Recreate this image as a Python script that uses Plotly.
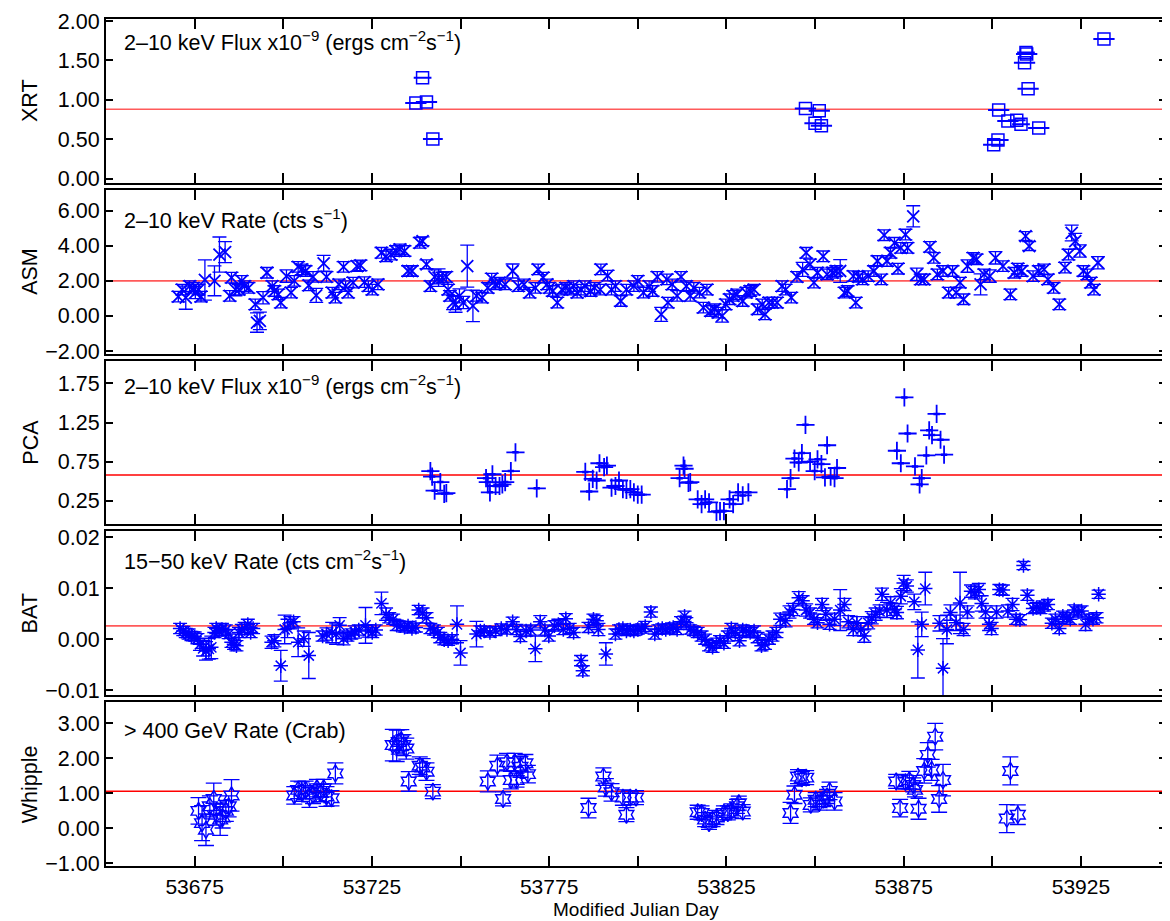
import plotly.graph_objects as go

# ---------------- data ----------------
xrt_mjd = [53737.4, 53739.3, 53740.4, 53742.2, 53847.3, 53850.0, 53851.2, 53851.8,
           53900.4, 53901.6, 53901.8, 53904.4, 53906.9, 53908.1, 53909.1, 53909.5,
           53909.7, 53910.1, 53913.1, 53931.5]
xrt_flux = [0.96, 1.28, 0.97, 0.50, 0.89, 0.70, 0.86, 0.67,
            0.43, 0.49, 0.87, 0.73, 0.74, 0.69, 1.47, 1.60,
            1.58, 1.14, 0.64, 1.77]
xrt_dmjd = [3.0, 2.5, 3.0, 2.8, 3.0, 3.0, 3.0, 3.0,
            3.0, 3.0, 3.0, 3.0, 2.5, 2.5, 3.0, 2.5,
            3.0, 3.0, 3.0, 3.0]
xrt_ref = 0.88

asm_mjd = [53670.4, 53671.5, 53672.5, 53673.6, 53674.7, 53675.2, 53676.1, 53676.8, 53677.9, 53680.6,
           53682.0, 53683.6, 53684.9, 53685.4, 53686.5, 53687.5, 53688.3, 53689.1, 53690.2, 53692.1,
           53692.6, 53693.4, 53694.3, 53695.4, 53696.9, 53697.5, 53698.6, 53699.3, 53700.9, 53702.2,
           53703.1, 53704.2, 53705.2, 53706.3, 53707.2, 53708.4, 53709.3, 53711.4, 53712.2, 53713.8,
           53714.7, 53715.7, 53717.0, 53717.6, 53718.3, 53719.7, 53720.8, 53721.8, 53722.9, 53724.0,
           53725.1, 53726.7, 53727.7, 53729.0, 53730.4, 53731.8, 53732.9, 53734.2, 53735.2, 53736.3,
           53738.5, 53739.3, 53740.4, 53741.5, 53742.7, 53743.8, 53744.9, 53746.0, 53746.5, 53747.0,
           53747.9, 53748.6, 53749.7, 53750.8, 53751.9, 53753.5, 53754.5, 53756.1, 53757.7, 53758.8,
           53759.9, 53761.0, 53762.6, 53764.7, 53766.3, 53767.9, 53769.5, 53771.1, 53771.9, 53773.3,
           53774.4, 53775.1, 53776.0, 53777.3, 53778.6, 53779.7, 53780.8, 53781.9, 53782.9, 53784.0,
           53785.1, 53786.7, 53787.8,
           53789.4, 53789.6, 53791.5, 53792.6, 53793.7, 53795.2, 53796.8, 53798.9, 53800.0, 53801.6,
           53803.2, 53804.2, 53805.5, 53806.6, 53808.2, 53808.5, 53809.7, 53811.1, 53812.2, 53813.7,
           53814.8, 53815.8, 53817.4, 53818.5, 53819.5, 53820.6, 53821.7, 53822.7, 53823.8, 53824.8,
           53825.9, 53826.9, 53828.0, 53829.6, 53830.6, 53831.7, 53832.8, 53833.8, 53835.1, 53835.9,
           53837.0, 53838.0, 53839.3, 53840.7, 53841.7, 53843.3, 53844.9, 53846.5, 53847.5, 53848.6,
           53849.7, 53850.7, 53852.3, 53853.4, 53854.9, 53856.0, 53857.1, 53858.3, 53859.2, 53860.8,
           53861.5, 53862.3, 53863.4, 53865.0, 53866.6, 53867.6, 53868.7, 53869.5, 53870.3, 53871.3,
           53872.4, 53873.4, 53874.2, 53875.5, 53876.1, 53877.7, 53878.7, 53879.8, 53880.8, 53882.4,
           53883.5, 53884.5, 53886.1, 53887.7, 53888.8, 53889.8, 53890.9, 53891.9, 53893.0, 53894.6,
           53895.6, 53896.7, 53897.7, 53899.3, 53900.9, 53903.0, 53905.1, 53906.2, 53907.2, 53908.3,
           53909.4, 53910.4, 53911.5, 53913.1, 53914.6, 53915.7, 53917.3, 53918.9, 53920.5, 53921.5,
           53922.4, 53923.4, 53924.7, 53925.7, 53926.8, 53927.8, 53928.7, 53929.8]
asm_rate = [1.10, 1.50, 1.04, 1.70, 1.60, 1.33, 1.50, 1.10, 2.05, 2.00,
            3.50, 3.64, 1.14, 2.18, 1.50, 1.50, 2.00, 1.70, 1.60, 0.66,
            -0.38, -0.28, 1.04, 2.46, 1.70, 1.42, 1.23, 0.76, 2.27, 1.33,
            2.00, 2.80, 2.65, 2.56, 1.74, 2.23, 1.17, 3.00, 2.23, 1.33,
            1.04, 1.80, 2.80, 1.70, 1.33, 1.90, 2.84, 2.88, 1.93, 1.70,
            1.50, 1.80, 3.60, 3.40, 3.50, 3.70, 3.79, 3.70, 2.56, 2.56,
            4.17, 4.26, 2.94, 1.70, 2.23, 2.18, 2.18, 2.23, 1.50, 1.14,
            0.76, 0.66, 1.14, 0.76, 2.84, 0.57, 1.14, 1.04, 1.60, 2.12,
            1.80, 1.90, 1.80, 2.56, 1.70, 1.80, 1.33, 1.60, 2.65, 2.18,
            1.80, 1.60, 1.42, 0.76, 1.50, 1.60, 1.50, 1.70, 1.33, 1.50,
            1.70, 1.42, 1.60,
            1.50, 2.65, 2.30, 1.50, 1.70, 0.85, 1.50, 1.70, 2.00, 1.33,
            1.70, 1.42, 2.23, 0.09, 2.08, 0.76, 1.80, 1.14, 2.23, 1.70,
            1.14, 1.60, 1.33, 0.47, 1.50, 0.28, 0.38, 0.19, 0.00, 0.66,
            0.95, 1.14, 1.23, 0.85, 1.33, 1.42, 1.50, 0.38, 0.66, 0.09,
            0.76, 0.76, 0.76, 1.70, 1.50, 1.04, 2.23, 2.65, 3.60, 2.94,
            1.90, 2.46, 3.40, 2.37, 2.46, 2.56, 2.56, 1.33, 1.42, 2.27,
            0.76, 2.23, 2.08, 2.27, 2.56, 3.13, 2.08, 4.60, 3.13, 3.60,
            4.17, 2.69, 3.88, 4.64, 3.88, 5.68, 2.37, 2.08, 2.08, 3.94,
            3.31, 2.37, 2.56, 1.33, 2.56, 1.33, 1.90, 0.95, 2.84, 3.31,
            3.22, 1.80, 2.37, 2.27, 3.31, 2.84, 1.23, 2.46, 2.69, 2.56,
            4.55, 3.98, 2.27, 2.56, 2.65, 2.08, 1.60, 0.66, 2.75, 3.50,
            4.73, 4.26, 3.70, 2.56, 2.37, 1.90, 1.50, 3.03]
asm_err = [0.30, 0.30, 0.66, 0.30, 0.30, 0.35, 0.30, 0.30, 1.15, 0.85,
           1.00, 0.60, 0.30, 0.30, 0.35, 0.30, 0.30, 0.30, 0.30, 0.30,
           0.55, 0.50, 0.35, 0.30, 0.30, 0.30, 0.30, 0.30, 0.35, 0.30,
           0.30, 0.30, 0.30, 0.30, 0.30, 0.30, 0.40, 0.45, 0.30, 0.30,
           0.30, 0.30, 0.30, 0.30, 0.30, 0.30, 0.30, 0.30, 0.30, 0.30,
           0.30, 0.30, 0.30, 0.30, 0.30, 0.30, 0.30, 0.30, 0.30, 0.30,
           0.30, 0.25, 0.25, 0.30, 0.40, 0.50, 0.30, 0.30, 0.30, 0.30,
           0.40, 0.45, 0.40, 0.35, 1.20, 0.90, 0.30, 0.30, 0.30, 0.30,
           0.30, 0.30, 0.30, 0.40, 0.30, 0.30, 0.30, 0.30, 0.30, 0.30,
           0.30, 0.30, 0.30, 0.30, 0.30, 0.30, 0.30, 0.30, 0.30, 0.30,
           0.30, 0.30, 0.30,
           0.30, 0.30, 0.30, 0.30, 0.30, 0.30, 0.30, 0.30, 0.30, 0.30,
           0.30, 0.30, 0.30, 0.40, 0.30, 0.30, 0.30, 0.30, 0.30, 0.30,
           0.30, 0.30, 0.30, 0.30, 0.30, 0.30, 0.30, 0.30, 0.35, 0.30,
           0.30, 0.30, 0.30, 0.30, 0.30, 0.30, 0.30, 0.30, 0.30, 0.30,
           0.30, 0.30, 0.30, 0.30, 0.30, 0.30, 0.30, 0.40, 0.30, 0.30,
           0.30, 0.30, 0.30, 0.30, 0.30, 0.30, 0.65, 0.30, 0.30, 0.30,
           0.30, 0.30, 0.30, 0.30, 0.30, 0.30, 0.30, 0.30, 0.30, 0.30,
           0.30, 0.30, 0.30, 0.30, 0.30, 0.60, 0.35, 0.30, 0.30, 0.30,
           0.30, 0.30, 0.30, 0.30, 0.30, 0.30, 0.30, 0.30, 0.35, 0.30,
           0.30, 0.60, 0.30, 0.35, 0.35, 0.30, 0.30, 0.30, 0.30, 0.30,
           0.25, 0.25, 0.30, 0.30, 0.30, 0.30, 0.30, 0.30, 0.30, 0.30,
           0.45, 0.45, 0.35, 0.30, 0.30, 0.30, 0.30, 0.35]
asm_ref = 2.0

pca_mjd = [53741.5, 53742.0, 53742.7, 53744.3, 53745.4, 53746.0, 53757.2, 53757.7, 53758.3, 53759.0,
           53759.9, 53761.0, 53761.8, 53762.6, 53764.2, 53765.5, 53771.5,
           53785.2, 53786.3, 53787.3, 53788.4, 53789.2, 53790.5, 53791.3, 53792.6, 53793.7, 53794.7,
           53795.8, 53796.8, 53797.9, 53798.9, 53800.0, 53801.1, 53811.8, 53812.9, 53813.2, 53814.3,
           53814.8, 53816.9, 53818.0, 53819.0, 53820.1, 53822.2, 53823.2, 53824.3, 53825.9, 53826.9,
           53828.3, 53829.6, 53831.2, 53842.1, 53843.1, 53844.2, 53845.4, 53846.3, 53847.3, 53848.6,
           53849.9, 53850.7, 53851.8, 53852.8, 53853.4, 53854.4, 53855.5, 53856.2, 53873.1, 53874.2,
           53875.2, 53876.1, 53878.2, 53879.5, 53880.1, 53881.4, 53882.2, 53883.0, 53884.3, 53885.4,
           53886.4]
pca_flux = [0.63, 0.56, 0.38, 0.49, 0.34, 0.35, 0.54, 0.49, 0.36, 0.59,
            0.44, 0.44, 0.46, 0.49, 0.63, 0.87, 0.41,
            0.62, 0.37, 0.53, 0.51, 0.73, 0.68, 0.70, 0.42, 0.44, 0.51,
            0.40, 0.39, 0.40, 0.36, 0.33, 0.33, 0.54, 0.70, 0.66, 0.48,
            0.49, 0.27, 0.21, 0.27, 0.23, 0.11, 0.12, 0.12, 0.27, 0.21,
            0.36, 0.32, 0.36, 0.40, 0.54, 0.79, 0.74, 0.86, 1.22, 0.75,
            0.63, 0.78, 0.72, 0.55, 0.96, 0.56, 0.54, 0.67, 0.89, 0.73,
            1.57, 1.11, 0.69, 0.46, 0.54, 0.83, 1.15, 1.09, 1.36, 1.03,
            0.84]
pca_ref = 0.58

bat_mjd = [53670.9, 53671.8, 53672.5, 53673.3, 53674.1, 53675.0, 53675.8, 53676.5, 53677.4, 53678.2,
           53679.0, 53679.7, 53680.6, 53681.1, 53681.9, 53682.7, 53683.8, 53684.6, 53685.4, 53686.1,
           53686.8, 53687.5, 53688.3, 53689.1, 53690.0, 53690.8, 53691.5, 53696.7, 53697.5, 53699.3,
           53700.4, 53701.2, 53702.0, 53702.9, 53704.2, 53705.8, 53707.2, 53711.1, 53712.2, 53713.8,
           53714.9, 53715.9, 53717.0, 53718.1, 53719.2, 53720.2, 53721.3, 53723.2, 53724.0, 53725.1,
           53726.1, 53727.7, 53729.0, 53729.9, 53731.0, 53732.0, 53733.1, 53734.2, 53735.2, 53736.3,
           53737.4, 53738.2, 53739.3, 53740.4, 53741.5, 53742.5, 53743.6, 53744.3, 53745.4, 53746.5,
           53747.6, 53749.0, 53750.0, 53754.5, 53755.6, 53756.7, 53758.3, 53759.9, 53761.5, 53763.1,
           53764.7, 53765.8, 53766.9, 53768.5, 53769.8, 53771.1, 53772.5, 53773.8, 53774.9, 53776.5,
           53777.6, 53779.0, 53779.7, 53780.8, 53781.9, 53784.0, 53784.5, 53786.1, 53787.5,
           53788.4, 53788.9, 53791.0, 53793.7, 53794.7, 53795.8, 53796.8, 53797.9, 53798.9, 53800.0,
           53801.1, 53802.1, 53803.7, 53804.8, 53805.8, 53806.9, 53807.9, 53809.0, 53810.0, 53811.1,
           53812.2, 53813.2, 53813.7, 53814.8, 53815.8, 53816.9, 53818.0, 53819.0, 53820.1, 53821.1,
           53822.2, 53823.2, 53824.3, 53825.4, 53826.4, 53827.5, 53828.7, 53829.6, 53830.6, 53831.7,
           53832.8, 53833.8, 53834.9, 53835.9, 53837.0, 53838.0, 53839.1, 53840.2, 53841.7, 53842.8,
           53843.8, 53845.4, 53846.5, 53847.5, 53848.6, 53849.7, 53850.7, 53852.0, 53853.0, 53854.1,
           53855.5, 53857.1, 53858.3, 53859.4, 53860.8, 53861.8, 53862.9, 53863.9, 53865.0, 53866.0,
           53867.1, 53868.2, 53868.9, 53870.3, 53871.3, 53872.4, 53873.1, 53874.2, 53875.0, 53875.9,
           53878.0, 53879.0, 53880.1, 53881.1, 53885.1, 53886.1, 53887.2, 53888.2, 53889.8, 53890.9,
           53891.9, 53893.0, 53894.0, 53895.1, 53896.2, 53897.0, 53898.1, 53899.1, 53899.8, 53901.2,
           53902.0, 53903.0, 53904.4, 53905.7, 53906.7, 53907.8, 53908.8, 53909.9, 53911.5, 53912.5,
           53913.6, 53914.6, 53915.7, 53916.8, 53917.8, 53918.9, 53919.9, 53921.0, 53922.0, 53923.1,
           53924.2, 53925.2, 53926.3, 53927.3, 53928.4, 53929.4, 53930.0]
bat_rate = [0.0021, 0.0016, 0.0012, 0.0010, 0.0006, 0.0005, 0.0001, -0.0010, -0.0018, -0.0023,
            -0.0019, -0.0016, 0.0013, 0.0021, 0.0016, 0.0019, 0.0018, 0.0010, -0.0006, -0.0010,
            -0.0013, 0.0013, 0.0019, 0.0021, 0.0029, 0.0013, 0.0021, -0.0006, -0.0003, -0.0052,
            0.0019, 0.0021, 0.0032, 0.0034, -0.0006, 0.0001, -0.0032, 0.0006, 0.0010, 0.0013,
            0.0010, 0.0027, 0.0001, 0.0006, 0.0010, 0.0014, 0.0018, 0.0027, 0.0016, 0.0013,
            0.0018, 0.0070, 0.0049, 0.0042, 0.0039, 0.0027, 0.0026, 0.0023, 0.0026, 0.0021,
            0.0023, 0.0057, 0.0051, 0.0042, 0.0021, 0.0018, 0.0013, 0.0003, -0.0001, -0.0003,
            0.0000, 0.0029, -0.0027, 0.0010, 0.0016, 0.0016, 0.0013, 0.0016, 0.0021, 0.0019,
            0.0034, 0.0019, 0.0005, 0.0016, 0.0018, -0.0019, 0.0034, 0.0018, 0.0006, 0.0026,
            0.0029, 0.0019, 0.0040, 0.0021, 0.0013, -0.0042, -0.0062, 0.0023, 0.0039,
            0.0036, 0.0019, -0.0029, 0.0010, 0.0019, 0.0021, 0.0016, 0.0018, 0.0016, 0.0019,
            0.0021, 0.0025, 0.0053, 0.0010, 0.0019, 0.0021, 0.0019, 0.0021, 0.0023, 0.0019,
            0.0034, 0.0045, 0.0032, 0.0019, 0.0016, 0.0013, 0.0006, 0.0000, -0.0013, -0.0016,
            -0.0008, -0.0003, -0.0008, 0.0006, 0.0021, 0.0013, -0.0003, 0.0018, 0.0016, 0.0013,
            0.0016, 0.0003, -0.0013, -0.0010, 0.0000, 0.0006, 0.0013, 0.0039, 0.0036, 0.0053,
            0.0058, 0.0081, 0.0075, 0.0057, 0.0051, 0.0039, 0.0032, 0.0068, 0.0049, 0.0029,
            0.0039, 0.0057, 0.0068, 0.0034, 0.0019, 0.0032, 0.0019, 0.0006, 0.0032, 0.0042,
            0.0049, 0.0055, 0.0088, 0.0057, 0.0071, 0.0058, 0.0052, 0.0084, 0.0110, 0.0104,
            0.0073, -0.0021, 0.0029, 0.0099, 0.0031, -0.0057, 0.0019, 0.0052, 0.0032, 0.0071,
            0.0019, 0.0053, 0.0094, 0.0091, 0.0097, 0.0070, 0.0053, 0.0029, 0.0021, 0.0053,
            0.0097, 0.0096, 0.0055, 0.0068, 0.0039, 0.0038, 0.0144, 0.0086, 0.0060, 0.0062,
            0.0060, 0.0065, 0.0068, 0.0031, 0.0039, 0.0021, 0.0045, 0.0042, 0.0039, 0.0057,
            0.0053, 0.0055, 0.0029, 0.0039, 0.0039, 0.0042, 0.0088]
bat_err = [0.0010, 0.0009, 0.0009, 0.0010, 0.0009, 0.0009, 0.0010, 0.0012, 0.0015, 0.0018,
           0.0020, 0.0022, 0.0010, 0.0010, 0.0010, 0.0012, 0.0010, 0.0009, 0.0010, 0.0010,
           0.0010, 0.0010, 0.0010, 0.0012, 0.0010, 0.0010, 0.0010, 0.0012, 0.0012, 0.0030,
           0.0028, 0.0018, 0.0012, 0.0010, 0.0028, 0.0015, 0.0045, 0.0010, 0.0012, 0.0020,
           0.0020, 0.0015, 0.0012, 0.0010, 0.0010, 0.0012, 0.0010, 0.0035, 0.0012, 0.0010,
           0.0010, 0.0022, 0.0012, 0.0010, 0.0010, 0.0010, 0.0009, 0.0009, 0.0009, 0.0009,
           0.0009, 0.0009, 0.0010, 0.0010, 0.0010, 0.0010, 0.0010, 0.0010, 0.0010, 0.0009,
           0.0009, 0.0036, 0.0024, 0.0025, 0.0010, 0.0009, 0.0009, 0.0009, 0.0009, 0.0009,
           0.0009, 0.0010, 0.0010, 0.0010, 0.0010, 0.0025, 0.0012, 0.0010, 0.0010, 0.0010,
           0.0010, 0.0010, 0.0010, 0.0010, 0.0010, 0.0010, 0.0010, 0.0010, 0.0010,
           0.0010, 0.0012, 0.0022, 0.0010, 0.0009, 0.0009, 0.0009, 0.0009, 0.0009, 0.0009,
           0.0009, 0.0010, 0.0010, 0.0010, 0.0009, 0.0009, 0.0009, 0.0009, 0.0009, 0.0010,
           0.0010, 0.0010, 0.0010, 0.0009, 0.0009, 0.0010, 0.0010, 0.0010, 0.0010, 0.0010,
           0.0010, 0.0010, 0.0010, 0.0010, 0.0010, 0.0010, 0.0010, 0.0010, 0.0010, 0.0010,
           0.0010, 0.0010, 0.0010, 0.0010, 0.0010, 0.0010, 0.0010, 0.0012, 0.0012, 0.0012,
           0.0012, 0.0012, 0.0010, 0.0012, 0.0010, 0.0010, 0.0010, 0.0012, 0.0012, 0.0010,
           0.0012, 0.0040, 0.0012, 0.0012, 0.0012, 0.0012, 0.0012, 0.0012, 0.0012, 0.0012,
           0.0012, 0.0012, 0.0012, 0.0015, 0.0012, 0.0012, 0.0012, 0.0015, 0.0015, 0.0012,
           0.0015, 0.0055, 0.0024, 0.0032, 0.0015, 0.0058, 0.0028, 0.0015, 0.0015, 0.0060,
           0.0012, 0.0012, 0.0012, 0.0012, 0.0012, 0.0015, 0.0012, 0.0012, 0.0012, 0.0012,
           0.0010, 0.0010, 0.0012, 0.0012, 0.0010, 0.0010, 0.0008, 0.0010, 0.0010, 0.0010,
           0.0010, 0.0010, 0.0010, 0.0010, 0.0010, 0.0010, 0.0010, 0.0010, 0.0010, 0.0010,
           0.0010, 0.0010, 0.0012, 0.0010, 0.0010, 0.0010, 0.0008]
bat_ref = 0.0026

whp_mjd = [53676.1, 53677.1, 53678.2, 53679.3, 53680.4, 53681.1, 53682.2, 53682.9, 53683.8, 53684.6,
           53685.4, 53703.1, 53704.2, 53705.2, 53706.3, 53707.4, 53708.4, 53709.5, 53710.6, 53711.4,
           53712.2, 53713.6, 53714.7, 53730.9, 53732.0, 53732.6, 53733.3, 53733.9, 53734.7, 53735.4,
           53738.5, 53739.3, 53740.4, 53742.2, 53757.7, 53760.4, 53762.0, 53763.1, 53764.2, 53765.3,
           53765.8, 53766.9, 53768.3, 53769.0, 53786.1, 53790.3, 53791.0, 53792.6, 53795.8, 53796.8,
           53797.9, 53799.5, 53816.9, 53818.0, 53819.0, 53820.1, 53821.1, 53822.2, 53824.3, 53825.4,
           53826.4, 53828.0, 53828.5, 53829.6, 53843.1, 53844.2, 53845.2, 53846.3, 53847.5, 53848.8,
           53850.2, 53851.2, 53852.3, 53853.4, 53854.1, 53855.5, 53872.9, 53874.0, 53875.5, 53876.6,
           53877.7, 53878.2, 53879.2, 53880.8, 53881.8, 53882.9, 53883.9, 53885.0, 53886.1, 53904.1,
           53905.1, 53907.2]
whp_rate = [0.49, 0.14, -0.05, 0.62, 0.83, 0.38, 0.24, 0.30, 0.49, 0.62,
            0.93, 0.93, 1.09, 1.04, 1.09, 0.87, 0.95, 1.14, 1.00, 1.14,
            0.90, 0.85, 1.56, 2.37, 2.35, 2.46, 2.51, 2.37, 2.27, 1.33,
            1.78, 1.73, 1.61, 1.04, 1.33, 1.78, 0.83, 1.88, 1.37, 1.88,
            1.37, 1.75, 1.85, 1.54, 0.57, 1.47, 1.16, 1.02, 0.87, 0.38,
            0.87, 0.87, 0.45, 0.43, 0.24, 0.14, 0.24, 0.30, 0.43, 0.43,
            0.49, 0.62, 0.71, 0.47, 0.43, 0.95, 1.47, 1.42, 1.44, 0.66,
            0.81, 0.71, 0.81, 0.90, 1.06, 0.76, 1.33, 0.57, 1.31, 1.37,
            1.23, 1.09, 0.55, 1.63, 2.09, 1.66, 2.61, 0.83, 1.37, 0.27,
            1.63, 0.38]
whp_err = [0.38, 0.50, 0.45, 0.30, 0.45, 0.30, 0.45, 0.30, 0.30, 0.30,
           0.45, 0.25, 0.25, 0.28, 0.25, 0.28, 0.25, 0.25, 0.25, 0.25,
           0.28, 0.22, 0.30, 0.45, 0.45, 0.35, 0.30, 0.30, 0.30, 0.28,
           0.25, 0.25, 0.25, 0.20, 0.30, 0.30, 0.20, 0.25, 0.25, 0.25,
           0.20, 0.30, 0.25, 0.25, 0.28, 0.25, 0.25, 0.25, 0.22, 0.20,
           0.20, 0.20, 0.20, 0.20, 0.20, 0.18, 0.20, 0.20, 0.20, 0.20,
           0.20, 0.20, 0.20, 0.20, 0.30, 0.25, 0.20, 0.20, 0.20, 0.20,
           0.20, 0.20, 0.20, 0.20, 0.25, 0.25, 0.20, 0.25, 0.20, 0.25,
           0.20, 0.20, 0.30, 0.35, 0.35, 0.30, 0.38, 0.38, 0.45, 0.40,
           0.40, 0.28]
whp_ref = 1.05

panel_names = ["XRT", "ASM", "PCA", "BAT", "Whipple"]
panel_labels = ["2\u201310 keV Flux x10<sup>\u22129</sup> (ergs cm<sup>\u22122</sup>s<sup>\u22121</sup>)",
                "2\u201310 keV Rate (cts s<sup>\u22121</sup>)",
                "2\u201310 keV Flux x10<sup>\u22129</sup> (ergs cm<sup>\u22122</sup>s<sup>\u22121</sup>)",
                "15\u221250 keV Rate (cts cm<sup>\u22122</sup>s<sup>\u22121</sup>)",
                "> 400 GeV Rate (Crab)"]
y_ranges = [[-0.055, 2.025], [-2.15, 7.19], [-0.05, 2.04], [-0.01097, 0.0211], [-1.085, 3.596]]
y_ticks = [[0.0, 0.5, 1.0, 1.5, 2.0], [-2, 0, 2, 4, 6], [0.25, 0.75, 1.25, 1.75],
           [-0.01, 0.0, 0.01, 0.02], [-1, 0, 1, 2, 3]]
ref_levels = [xrt_ref, asm_ref, pca_ref, bat_ref, whp_ref]
x_tickvals = [53675, 53700, 53725, 53750, 53775, 53800, 53825, 53850, 53875, 53900, 53925]
x_ticktext = ["53675", "", "53725", "", "53775", "", "53825", "", "53875", "", "53925"]
x_range = [53650, 53949]

# ---------------- layout geometry ----------------
# the page body adds an 8 px offset, so the figure is drawn from (8, 8) of the window
OFF = 8
W, H = 1170 - OFF, 921 - OFF
ML, MT = 106 - OFF, 13 - OFF
PLOT_R = 1168 - OFF
PLOT_B = 866 - OFF
MR, MB = W - PLOT_R, H - PLOT_B
PH, GAP = 165, 7
plot_h = PLOT_B - MT


def dom(i):
    top = MT + i * (PH + GAP)
    bot = top + PH
    return [(PLOT_B - bot) / plot_h, (PLOT_B - top) / plot_h]


def ypaper(screen_px):
    return (PLOT_B - (screen_px - OFF)) / plot_h


BLUE = "#0000ff"
FONT = "Liberation Sans, Arial, Helvetica, sans-serif"
FS = 21.5

fig = go.Figure()

fig.add_trace(go.Scatter(x=xrt_mjd, y=xrt_flux, mode="markers", xaxis="x", yaxis="y",
                         marker=dict(symbol="square-open", size=12, color=BLUE, line=dict(width=1.5, color=BLUE)),
                         error_x=dict(type="data", array=xrt_dmjd, color=BLUE, thickness=2, width=0),
                         showlegend=False))
fig.add_trace(go.Scatter(x=asm_mjd, y=asm_rate, mode="markers", xaxis="x2", yaxis="y2",
                         marker=dict(symbol="x-thin-open", size=12, color=BLUE, line=dict(width=1.8, color=BLUE)),
                         error_y=dict(type="data", array=asm_err, color=BLUE, thickness=1.3, width=7),
                         showlegend=False))
fig.add_trace(go.Scatter(x=pca_mjd, y=pca_flux, mode="markers", xaxis="x3", yaxis="y3",
                         marker=dict(symbol="cross-thin-open", size=13, color=BLUE, line=dict(width=1.8, color=BLUE)),
                         error_x=dict(type="constant", value=0.9, color=BLUE, thickness=2.5, width=0),
                         showlegend=False))
fig.add_trace(go.Scatter(x=bat_mjd, y=bat_rate, mode="markers", xaxis="x4", yaxis="y4",
                         marker=dict(symbol="asterisk-open", size=12, color=BLUE, line=dict(width=1.5, color=BLUE)),
                         error_y=dict(type="data", array=bat_err, color=BLUE, thickness=1.3, width=7),
                         showlegend=False))
fig.add_trace(go.Scatter(x=whp_mjd, y=whp_rate, mode="markers", xaxis="x5", yaxis="y5",
                         marker=dict(symbol="hexagram-open", size=13, color=BLUE, line=dict(width=1.4, color=BLUE)),
                         error_y=dict(type="data", array=whp_err, color=BLUE, thickness=1.3, width=8),
                         showlegend=False))

layout = dict(width=W, height=H, margin=dict(l=ML, r=MR, t=MT, b=MB, pad=0),
              paper_bgcolor="white", plot_bgcolor="white",
              font=dict(family=FONT, size=FS, color="black"), showlegend=False)

shapes = []
annotations = []
label_centers_px = [35, 214, 382, 558, 730]
for i in range(5):
    n = "" if i == 0 else str(i + 1)
    layout["xaxis" + n] = dict(domain=[0, 1], anchor="y" + n, range=x_range,
                               tickvals=x_tickvals, ticktext=x_ticktext,
                               showticklabels=(i == 4), ticks="inside", ticklen=10, tickwidth=1.5,
                               tickcolor="black", showline=True, linecolor="black", linewidth=2,
                               mirror="ticks", showgrid=False, zeroline=False,
                               tickfont=dict(size=21), ticklabelstandoff=1,
                               ticklabeloverflow="allow")
    if i > 0:
        layout["xaxis" + n]["matches"] = "x"
    layout["yaxis" + n] = dict(domain=dom(i), anchor="x" + n, range=y_ranges[i],
                               tickvals=y_ticks[i], tickformat=".2f", ticks="inside", ticklen=7,
                               tickwidth=1.5, tickcolor="black", showline=True, linecolor="black",
                               linewidth=2, mirror="ticks", showgrid=False, zeroline=False,
                               tickfont=dict(size=FS), ticklabeloverflow="allow")
    line_col = "#ff0000" if i in (2, 4) else "#ff5a5a"
    shapes.append(dict(type="line", xref="x" + n + " domain", x0=0, x1=1, yref="y" + n,
                       y0=ref_levels[i], y1=ref_levels[i], line=dict(color=line_col, width=1.6),
                       layer="below"))
    annotations.append(dict(text=panel_labels[i], xref="paper", x=0.015, xanchor="left",
                            yref="paper", y=ypaper(label_centers_px[i]), yanchor="middle",
                            showarrow=False, font=dict(size=FS)))
    d = dom(i)
    annotations.append(dict(text=panel_names[i], xref="paper", x=(30 - 106) / (1168 - 106),
                            xanchor="center", yref="paper", y=(d[0] + d[1]) / 2, yanchor="middle",
                            textangle=-90, showarrow=False, font=dict(size=FS)))

annotations.append(dict(text="Modified Julian Day", xref="paper", x=0.5, xanchor="center",
                        yref="paper", y=ypaper(910), yanchor="middle", showarrow=False,
                        font=dict(size=19)))
layout["shapes"] = shapes
layout["annotations"] = annotations
fig.update_layout(**layout)

fig.write_html("out.html")
